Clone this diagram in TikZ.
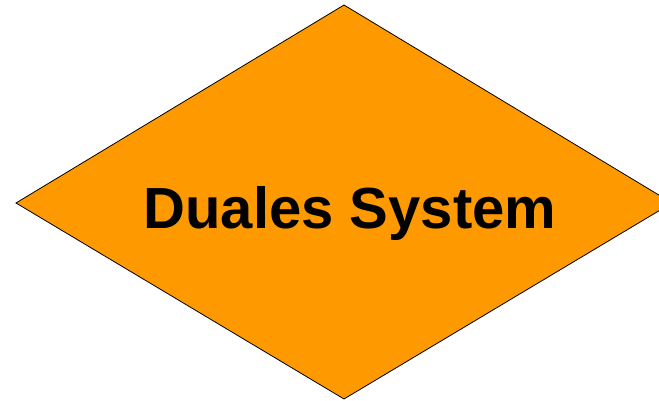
\documentclass[tikz,border=0pt]{standalone}
\usepackage{fontspec}
\setmainfont{Liberation Sans}
\definecolor{dsorange}{HTML}{FF9900}
\tikzset{
  decision/.style={fill=dsorange, draw=black, line width=0.8pt, line join=miter},
  label/.style={font=\fontsize{58}{60}\selectfont\bfseries, text=black, inner sep=0pt, anchor=base}
}
\begin{document}
\begin{tikzpicture}[x=1pt,y=1pt]
\useasboundingbox (0,0) rectangle (659,401);
\clip (0,0) rectangle (659,401);
\coordinate (top) at (344,396);
\coordinate (left) at (16,198);
\coordinate (bottom) at (344,2);
\coordinate (right) at (672,198);
\draw[decision] (top) -- (right) -- (bottom) -- (left) -- cycle;
\node[label] (title) at (350,172) {Duales System};
\end{tikzpicture}
\end{document}
